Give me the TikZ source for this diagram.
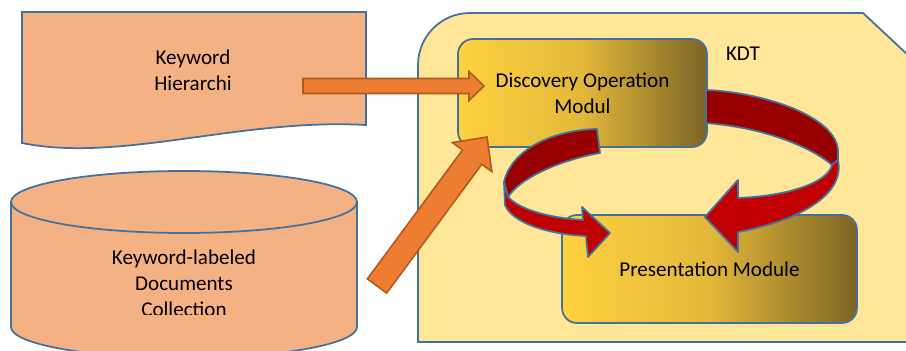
\documentclass[tikz,border=0pt]{standalone}
\usepackage{fontspec}
\setmainfont{Carlito}
\usetikzlibrary{calc}
\definecolor{kdtfill}{RGB}{255,230,153}
\definecolor{kdtline}{RGB}{65,113,156}
\definecolor{srcfill}{RGB}{244,177,131}
\definecolor{arrowfill}{RGB}{237,125,49}
\definecolor{arrowline}{RGB}{174,90,33}
\definecolor{ribbonback}{RGB}{153,0,0}
\definecolor{ribbonfront}{RGB}{192,0,0}
\definecolor{goldA}{RGB}{255,210,62}
\definecolor{goldM}{RGB}{226,184,58}
\definecolor{goldB}{RGB}{124,100,36}
\tikzset{
  txt/.style={align=center, font=\fontsize{12}{14.8}\selectfont},
  src/.style={draw=kdtline, fill=srcfill, line width=1pt},
  module/.style={txt, draw=kdtline, line width=1pt, rounded corners=0.3cm,
    left color=goldA, right color=goldB, middle color=goldM, minimum height=2.16cm},
  ribbon/.style={draw=kdtline, line width=1pt, line join=round},
  fatarrow/.style n args={3}{draw=arrowline, fill=arrowfill, line width=0.9pt,
    to path={($(\tikztostart)!#1!90:(\tikztotarget)$)
      -- ($(\tikztotarget)!#3!(\tikztostart)!#1!-90:(\tikztostart)$)
      -- ($(\tikztotarget)!#3!(\tikztostart)!#2!-90:(\tikztostart)$)
      -- (\tikztotarget)
      -- ($(\tikztotarget)!#3!(\tikztostart)!#2!90:(\tikztostart)$)
      -- ($(\tikztotarget)!#3!(\tikztostart)!#1!90:(\tikztostart)$)
      -- ($(\tikztostart)!#1!-90:(\tikztotarget)$) -- cycle}}
}
\begin{document}
\begin{tikzpicture}[x=0.02cm,y=-0.02cm]
\useasboundingbox (0,0) rectangle (906,351);
\clip (0,0) rectangle (906,351);
\draw[kdtline,line width=1pt,fill=kdtfill] (418,342) -- (418,65) arc[start angle=180,end angle=270,radius=52]
  -- (863,13) -- (940,85) -- (940,342) -- cycle;
\draw[src] (22,12) -- (366,12) -- (366,125) .. controls (240,118) and (120,163) .. (22,143) -- cycle;
\node[txt] (hier) at (193,70) {Keyword\\Hierarchi};
\draw[src] (11,202) -- (11,327) arc[start angle=180,end angle=0,x radius=173,y radius=31] -- (357,202) -- cycle;
\draw[src] (184,202) ellipse[x radius=173,y radius=31];
\begin{scope}
\clip (0,0) rectangle (906,314);
\node[txt] (docs) at (184,283) {Keyword-labeled\\Documents\\Collection};
\end{scope}
\node[txt] (kdt) at (743,54) {KDT};
\node[module,minimum width=4.98cm] (disc) at (582.5,93) {Discovery Operation\\Modul};
\node[module,minimum width=5.9cm] (pres) at (709.5,269) {Presentation Module};
\draw[ribbon,fill=ribbonback] (706,90) .. controls (760,92) and (835,115) .. (838,150) -- (838,160) -- (832,165)
  .. controls (815,150) and (770,128) .. (706,123) -- cycle;
\draw[ribbon,fill=ribbonfront] (838,160) .. controls (845,195) and (800,220) .. (738,232) -- (738,252) -- (705,217)
  -- (738,180) -- (738,198) .. controls (790,196) and (828,182) .. (832,165) -- cycle;
\draw[ribbon,fill=ribbonback] (597,129) .. controls (555,130) and (512,148) .. (504,182) -- (508,197)
  .. controls (520,178) and (560,160) .. (600,153) -- cycle;
\draw[ribbon,fill=ribbonfront] (504,182) -- (505,205) .. controls (512,222) and (545,234) .. (586,236) -- (588,257)
  -- (610,233) -- (582,207) -- (583,220) .. controls (550,218) and (520,210) .. (508,197) -- cycle;
\coordinate (h0) at (303,86);
\coordinate (h1) at (484,86);
\coordinate (d0) at (377,286);
\coordinate (d1) at (487,137);
\draw[fatarrow={0.15cm}{0.29cm}{0.3cm}] (h0) to (h1);
\draw[fatarrow={0.24cm}{0.49cm}{0.5cm}] (d0) to (d1);
\end{tikzpicture}
\end{document}
